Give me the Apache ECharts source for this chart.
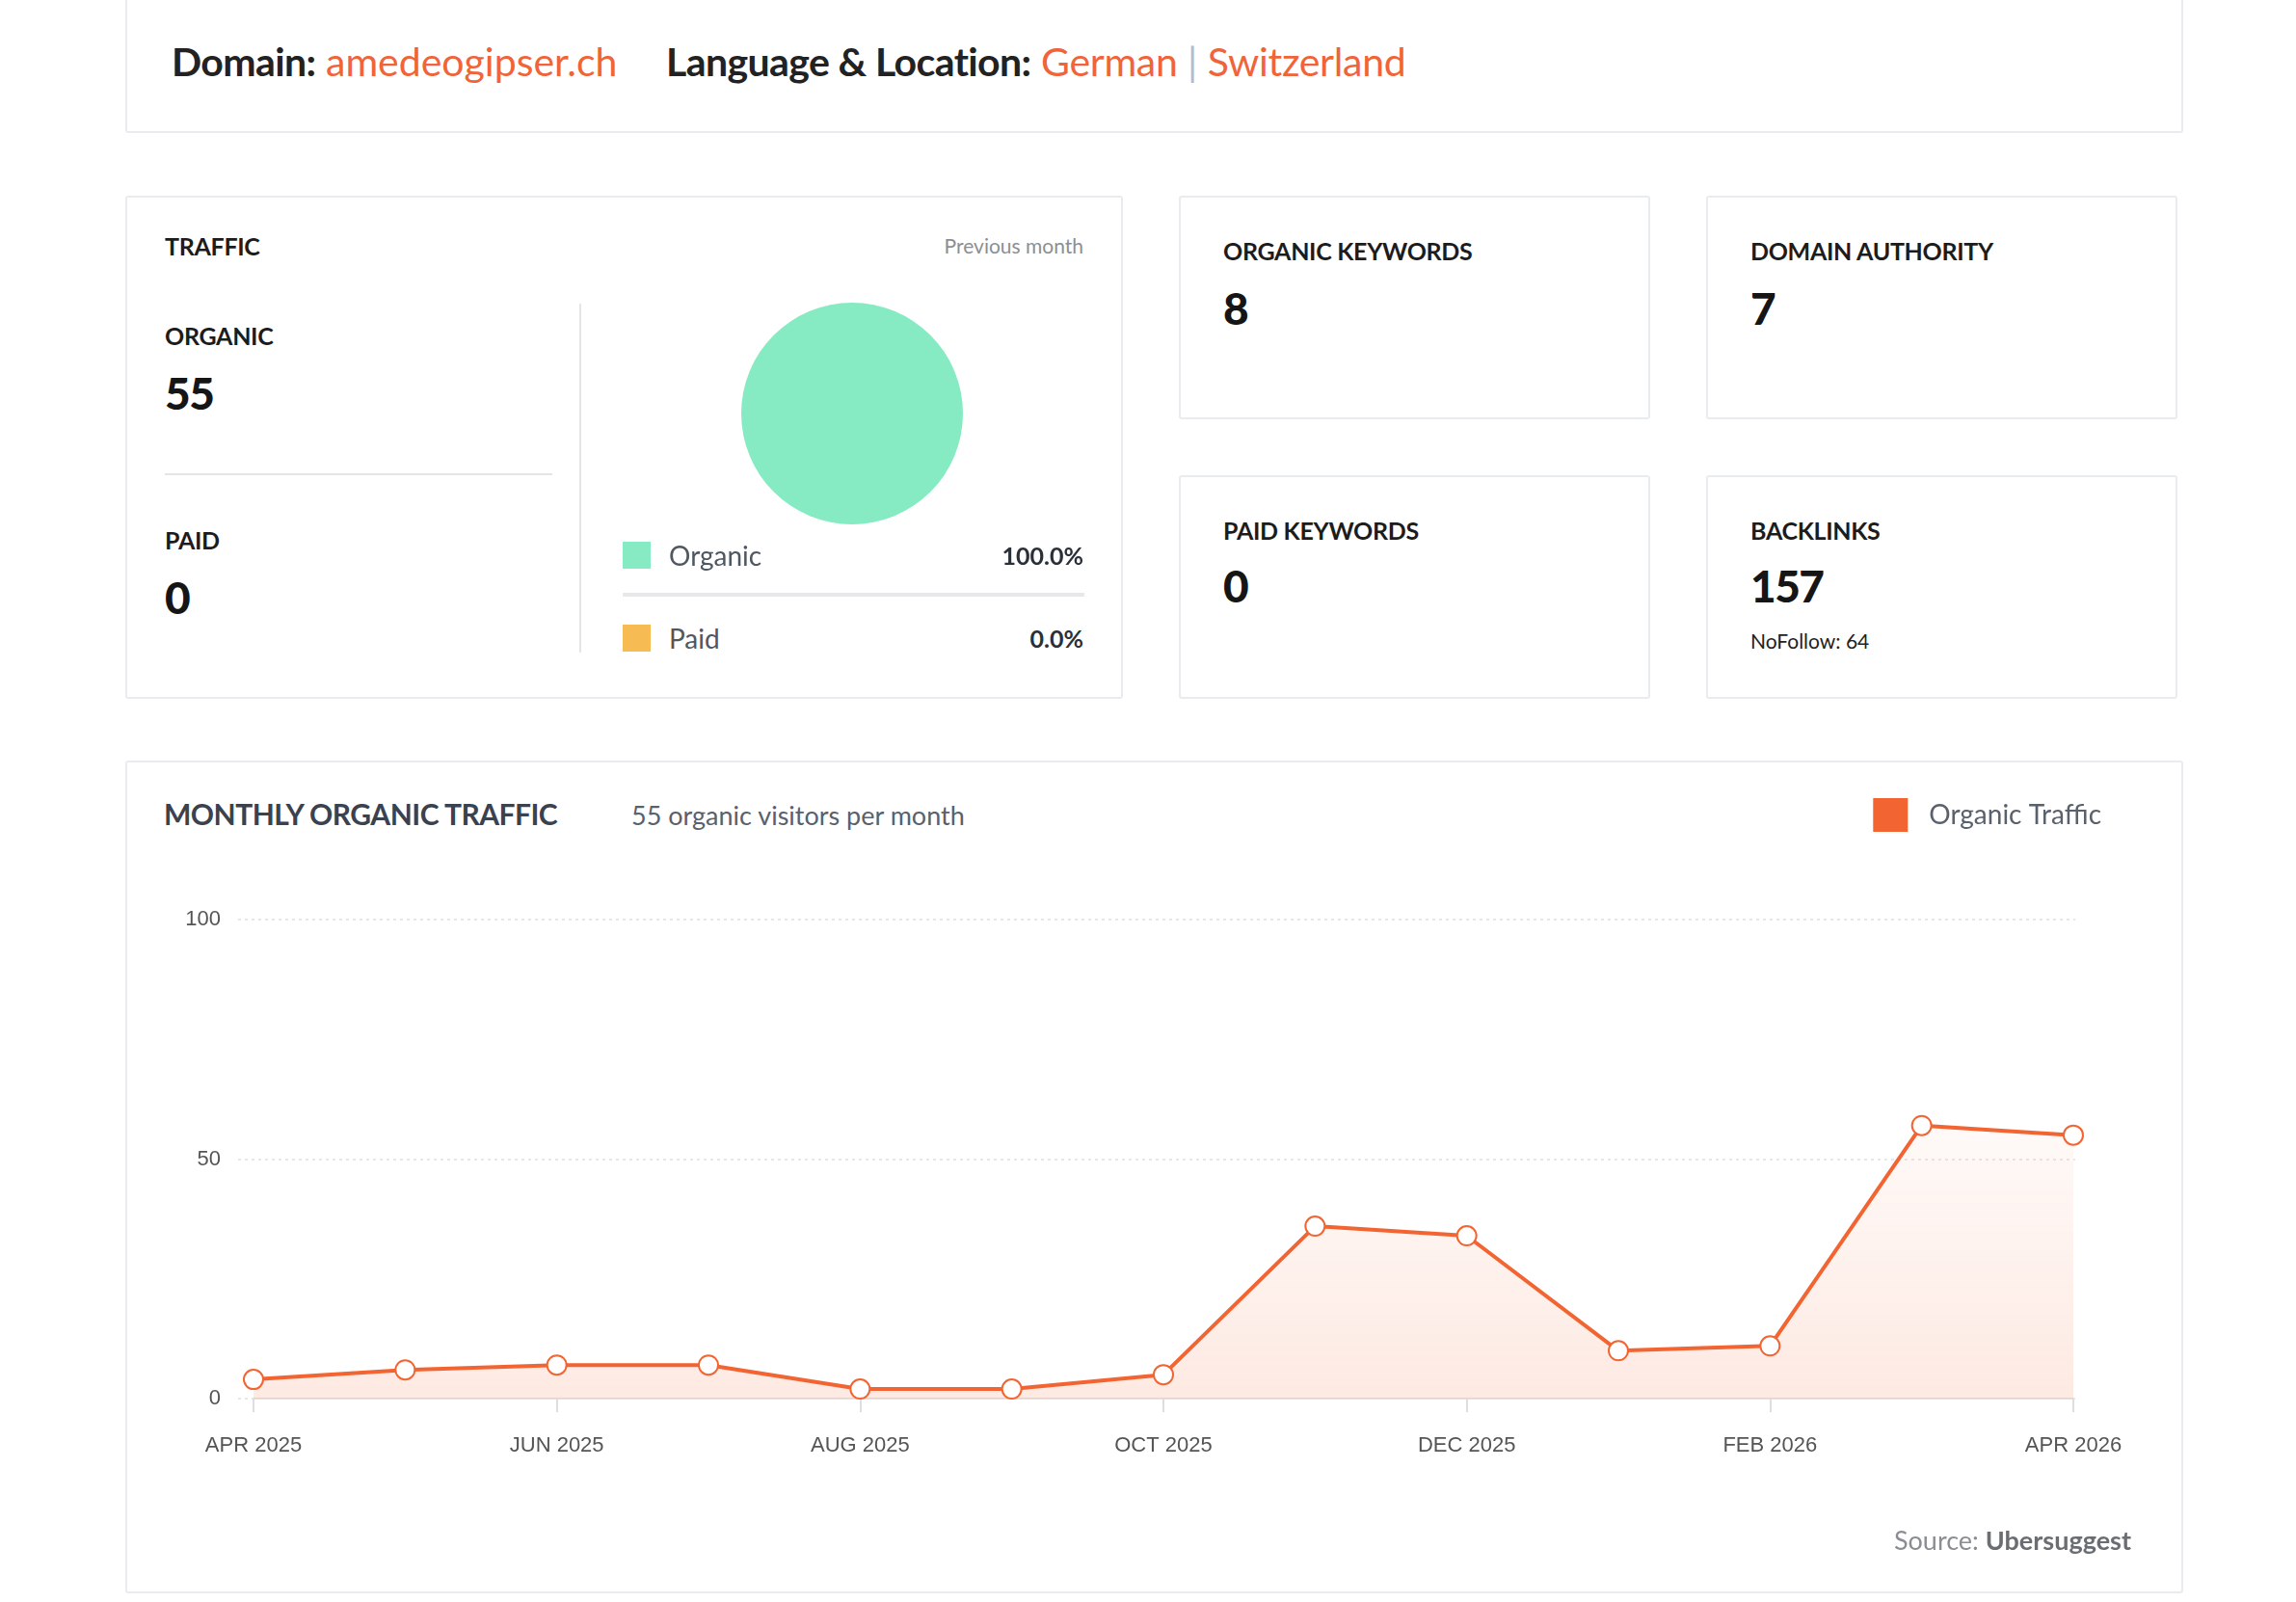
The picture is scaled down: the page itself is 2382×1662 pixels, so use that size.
<!DOCTYPE html>
<html>
<head>
<meta charset="UTF-8">
<title>Traffic overview</title>
<script src="https://cdn.jsdelivr.net/npm/echarts@6/dist/echarts.min.js"></script>
<style>
  html, body { margin: 0; padding: 0; background: #fff; }
  body { position: relative; width: 2382px; height: 1662px; overflow: hidden; font-family: Lato, "Noto Sans", sans-serif; }
  .card { position: absolute; box-sizing: border-box; border: 2px solid #e9ecee; border-radius: 3px; background: #fff; }
  .t { position: absolute; white-space: nowrap; }
  .head { font-weight: 700; font-size: 25px; color: #1c1c1c; letter-spacing: -0.3px; }
  .big { font-weight: 900; font-size: 46px; color: #151515; letter-spacing: -1.5px; }
  .orange { color: #f0643a; }
</style>
</head>
<body>
<div class="card" style="left:130px;top:-10px;width:2135px;height:148px;"></div>
<div class="t" style="left:178px;top:39px;line-height:50px;font-size:41px;">
  <span style="font-weight:700;color:#222;letter-spacing:-0.6px;">Domain:</span>
  <span class="orange" id="domain"></span>
  <span style="font-weight:700;color:#222;letter-spacing:-0.6px;margin-left:40px;">Language &amp; Location:</span>
  <span class="orange" id="lang" style="letter-spacing:-0.3px;"></span>
  <span style="color:#b7bcc2;">|</span>
  <span class="orange" id="loc" style="letter-spacing:-0.3px;"></span>
</div>

<!-- traffic card -->
<div class="card" style="left:130px;top:203px;width:1035px;height:522px;"></div>
<div class="t head" style="left:171px;top:240px;line-height:30px;">TRAFFIC</div>
<div class="t" style="right:1258px;top:240px;line-height:30px;font-size:21px;color:#8b8f94;">Previous month</div>
<div class="t head" style="left:171px;top:333px;line-height:30px;">ORGANIC</div>
<div class="t big" id="orgVal" style="left:171px;top:380px;line-height:56px;"></div>
<div style="position:absolute;left:171px;top:491px;width:402px;height:2px;background:#e3e5e7;"></div>
<div class="t head" style="left:171px;top:545px;line-height:30px;">PAID</div>
<div class="t big" id="paidVal" style="left:171px;top:592px;line-height:56px;"></div>
<div style="position:absolute;left:601px;top:315px;width:2px;height:362px;background:#e3e5e7;"></div>
<div id="pie" style="position:absolute;left:744px;top:289px;width:280px;height:280px;"></div>
<div id="pieLegend"></div>

<!-- small cards -->
<div class="card" style="left:1223px;top:203px;width:489px;height:232px;"></div>
<div class="t head" style="left:1269px;top:245px;line-height:30px;">ORGANIC KEYWORDS</div>
<div class="t big" id="kwVal" style="left:1269px;top:292px;line-height:56px;"></div>
<div class="card" style="left:1770px;top:203px;width:489px;height:232px;"></div>
<div class="t head" style="left:1816px;top:245px;line-height:30px;">DOMAIN AUTHORITY</div>
<div class="t big" id="daVal" style="left:1816px;top:292px;line-height:56px;"></div>
<div class="card" style="left:1223px;top:493px;width:489px;height:232px;"></div>
<div class="t head" style="left:1269px;top:535px;line-height:30px;">PAID KEYWORDS</div>
<div class="t big" id="pkVal" style="left:1269px;top:580px;line-height:56px;"></div>
<div class="card" style="left:1770px;top:493px;width:489px;height:232px;"></div>
<div class="t head" style="left:1816px;top:535px;line-height:30px;">BACKLINKS</div>
<div class="t big" id="blVal" style="left:1816px;top:580px;line-height:56px;"></div>
<div class="t" id="nfVal" style="left:1816px;top:651px;line-height:28px;font-size:21px;color:#222;"></div>

<!-- monthly chart card -->
<div class="card" style="left:130px;top:789px;width:2135px;height:864px;"></div>
<div class="t" style="left:170px;top:826px;line-height:36px;font-size:30px;font-weight:700;color:#3a4250;letter-spacing:-0.5px;">MONTHLY ORGANIC TRAFFIC</div>
<div class="t" style="left:655px;top:828px;line-height:36px;font-size:27px;color:#59616c;">55 organic visitors per month</div>
<div id="main" style="position:absolute;left:130px;top:789px;width:2135px;height:864px;"></div>
<div class="t" style="right:171px;top:1581px;line-height:34px;font-size:27px;color:#8a8e93;">Source: <span style="font-weight:700;color:#6a6e73;">Ubersuggest</span></div>

<script type="text/javascript">
var domainName = 'amedeogipser.ch';
var language = 'German';
var location_ = 'Switzerland';

var trafficNames = ['Organic', 'Paid'];
var trafficValues = [55, 0];
var trafficColors = ['#86ebc3', '#f6bb52'];

var organicKeywords = 8;
var domainAuthority = 7;
var paidKeywords = 0;
var backlinks = 157;
var noFollow = 64;

var months = ['APR 2025', 'MAY 2025', 'JUN 2025', 'JUL 2025', 'AUG 2025', 'SEP 2025', 'OCT 2025',
              'NOV 2025', 'DEC 2025', 'JAN 2026', 'FEB 2026', 'MAR 2026', 'APR 2026'];
var organicTraffic = [4, 6, 7, 7, 2, 2, 5, 36, 34, 10, 11, 57, 55];

document.getElementById('domain').textContent = domainName;
document.getElementById('lang').textContent = language;
document.getElementById('loc').textContent = location_;
document.getElementById('orgVal').textContent = trafficValues[0];
document.getElementById('paidVal').textContent = trafficValues[1];
document.getElementById('kwVal').textContent = organicKeywords;
document.getElementById('daVal').textContent = domainAuthority;
document.getElementById('pkVal').textContent = paidKeywords;
document.getElementById('blVal').textContent = backlinks;
document.getElementById('nfVal').textContent = 'NoFollow: ' + noFollow;

// pie legend rows with percentages
var total = trafficValues.reduce(function (a, b) { return a + b; }, 0);
var legendHtml = '';
trafficNames.forEach(function (name, i) {
    var top = 562 + i * 86;
    var pct = (total ? trafficValues[i] / total * 100 : 0).toFixed(1) + '%';
    legendHtml += '<div style="position:absolute;left:646px;top:' + top + 'px;width:29px;height:28px;background:' + trafficColors[i] + ';"></div>' +
        '<div class="t" style="left:694px;top:' + (top - 3) + 'px;line-height:34px;font-size:28px;color:#4f5761;">' + name + '</div>' +
        '<div class="t" style="right:1258px;top:' + (top - 2) + 'px;line-height:32px;font-size:25px;font-weight:700;color:#2a3039;">' + pct + '</div>';
});
legendHtml += '<div style="position:absolute;left:646px;top:615px;width:479px;height:4px;background:#e6e8ea;"></div>';
document.getElementById('pieLegend').innerHTML = legendHtml;

var pie = echarts.init(document.getElementById('pie'));
pie.setOption({
    animation: false,
    series: [{
        type: 'pie',
        radius: 115,
        center: ['50%', '50%'],
        silent: true,
        label: { show: false },
        labelLine: { show: false },
        data: trafficNames.map(function (n, i) {
            return { name: n, value: trafficValues[i], itemStyle: { color: trafficColors[i] } };
        })
    }]
});

var myChart = echarts.init(document.getElementById('main'));
var axisFont = { fontFamily: '"Liberation Sans", Arial, sans-serif', fontSize: 22, color: '#555' };
myChart.setOption({
    animation: false,
    legend: {
        data: ['Organic Traffic'],
        right: 80,
        top: 34,
        icon: 'rect',
        itemWidth: 34,
        itemHeight: 33,
        textStyle: { fontFamily: 'Lato', fontSize: 28, color: '#59616c', padding: [0, 0, 0, 18] }
    },
    grid: [
        { left: 117, right: 112, top: 165, height: 497 },
        { left: 133, right: 114, top: 165, height: 497 }
    ],
    xAxis: [
        { gridIndex: 0, type: 'category', data: months, show: false },
        {
            gridIndex: 1,
            type: 'category',
            data: months,
            boundaryGap: false,
            axisLine: { lineStyle: { color: '#e2e4e6', width: 2 } },
            axisTick: { interval: 1, length: 14, lineStyle: { color: '#dcdfe2', width: 2 } },
            axisLabel: Object.assign({ interval: 1, margin: 38 }, axisFont)
        }
    ],
    yAxis: [
        {
            gridIndex: 0,
            type: 'value',
            min: 0,
            max: 100,
            interval: 50,
            axisLine: { show: false },
            axisTick: { show: false },
            axisLabel: Object.assign({ margin: 18 }, axisFont),
            splitLine: { lineStyle: { type: [3, 4], color: '#dedfe1', width: 1.5 } }
        },
        {
            gridIndex: 1,
            type: 'value',
            min: 0,
            max: 100,
            interval: 50,
            show: false
        }
    ],
    series: [{
        name: 'Organic Traffic',
        type: 'line',
        xAxisIndex: 1,
        yAxisIndex: 1,
        data: organicTraffic,
        color: '#f26532',
        symbol: 'emptyCircle',
        symbolSize: 20,
        lineStyle: { width: 4, color: '#f26532' },
        itemStyle: { color: '#f26532', borderWidth: 3.5, borderColor: '#f26532' },
        areaStyle: {
            color: new echarts.graphic.LinearGradient(0, 0, 0, 1, [
                { offset: 0, color: 'rgba(242,101,50,0.05)' },
                { offset: 1, color: 'rgba(242,101,50,0.2)' }
            ])
        }
    }]
});
</script>
</body>
</html>
